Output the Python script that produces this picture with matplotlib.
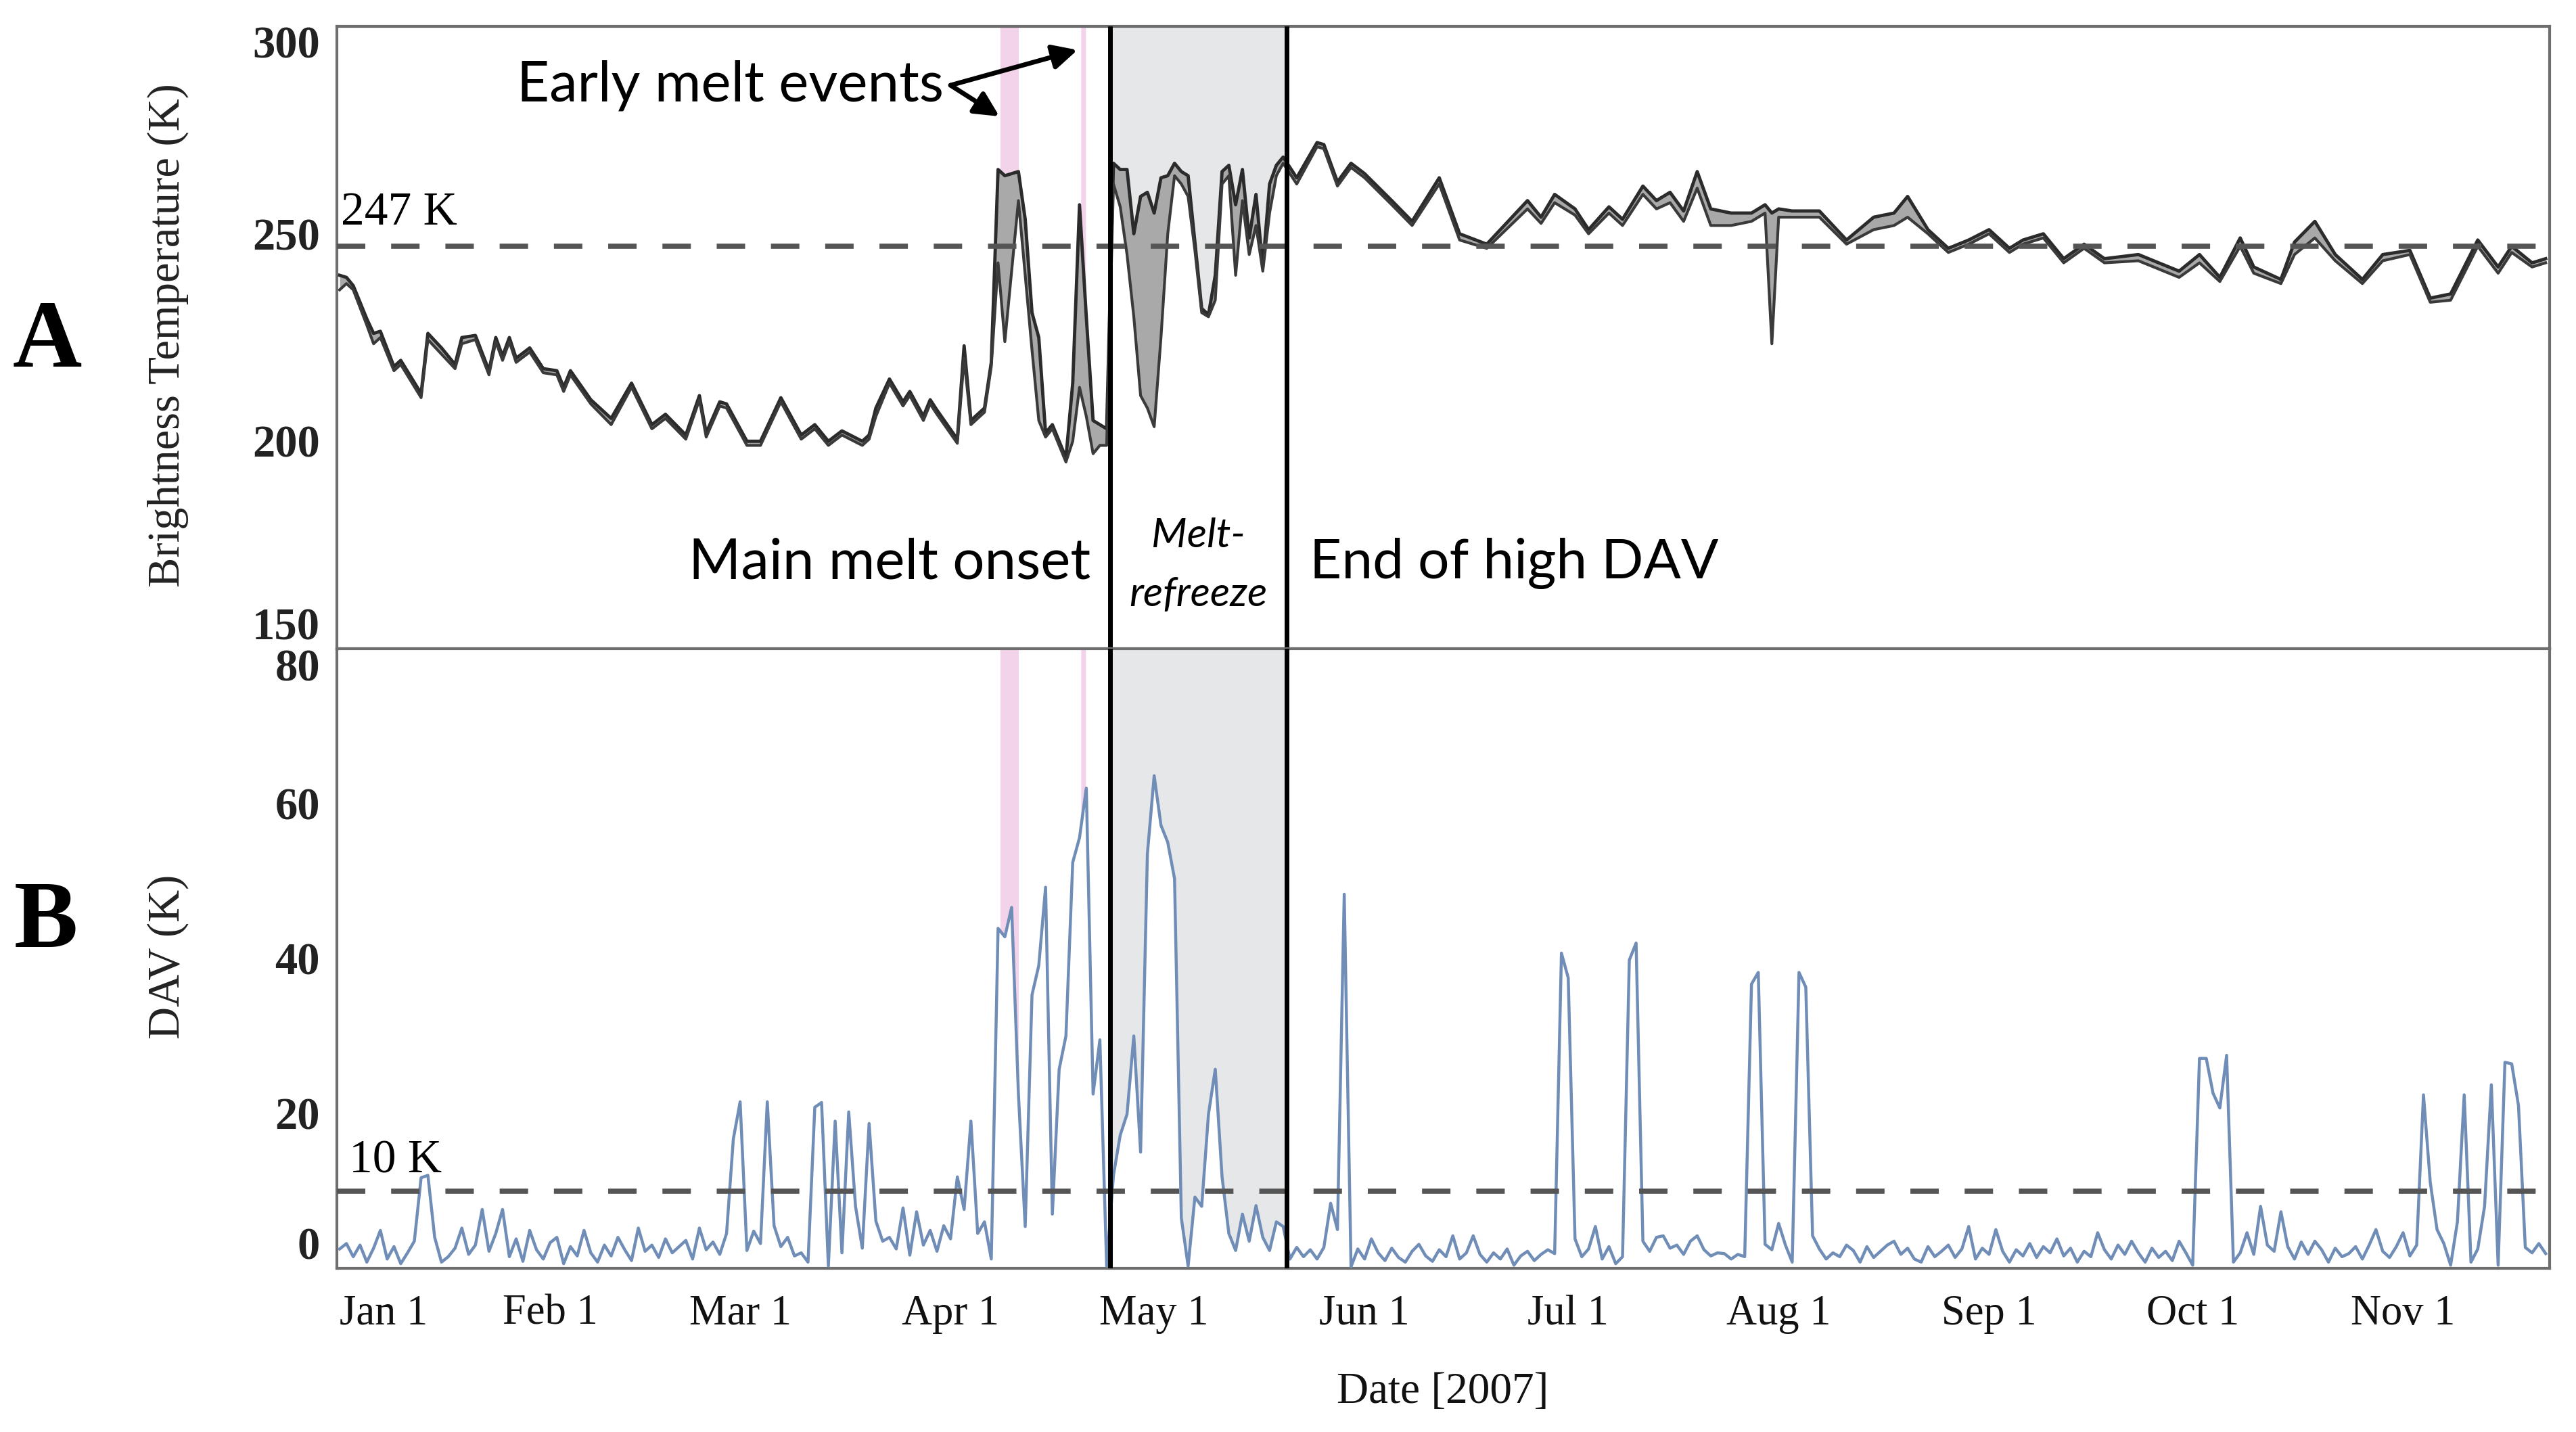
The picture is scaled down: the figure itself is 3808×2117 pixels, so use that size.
import numpy as np
import matplotlib
matplotlib.use('Agg')
import matplotlib.pyplot as plt

# brightness temperature, two passes (day of year 2007)
tb_day = [1, 2, 3, 5, 6, 7, 9, 10, 13, 14, 16, 18, 19, 21, 23, 24, 25, 26, 27, 29,
          31, 33, 34, 35, 38, 41, 44, 47, 49, 52, 54, 55, 57, 58, 61, 63, 66, 69, 71, 73,
          75, 78, 79, 80, 82, 84, 85, 87, 88, 89, 92, 93, 94, 96, 97, 98, 99, 101, 102, 103,
          104, 105, 106, 108, 109, 110, 111, 112, 113, 114, 115, 116, 117, 118, 119, 120, 121, 122, 123, 124,
          125, 126, 127, 128, 129, 130, 131, 132, 133, 134, 135, 136, 137, 138, 139, 140, 142, 145, 146, 148,
          150, 152, 156, 159, 163, 166, 170, 176, 178, 180, 183, 185, 188, 190, 193, 195, 197, 199, 201, 203,
          206, 209, 211, 212, 213, 215, 219, 223, 227, 230, 232, 235, 238, 241, 244, 247, 249, 252, 255, 258,
          261, 266, 272, 275, 278, 281, 283, 287, 289, 292, 295, 299, 302, 306, 309, 312, 316, 319, 321, 324,
          326]
tb_upper = [240, 239.5, 237.5, 229.5, 226, 226.5, 218, 219.5, 211.5, 226, 222.5, 218.5, 225, 225.5, 217, 225, 220.5, 225, 220, 222.5,
            217.5, 217, 213, 217, 210, 205.5, 214, 204, 206.5, 201.5, 211, 202, 209.5, 209, 200, 200, 210.5, 201.5, 204, 200,
            202.5, 200, 201.5, 208, 215, 209.5, 212, 206, 210, 207.5, 200.5, 223, 205, 208, 219, 265.5, 264, 265, 253.5, 231,
            225, 202, 204, 196, 214, 257, 230, 205, 204, 203, 267, 265.5, 265.5, 250, 259, 260, 255, 263.5, 264, 267,
            265, 264, 248, 232, 230.5, 240, 265, 266.5, 257, 265.5, 249, 259.5, 242, 262, 266.5, 268.5, 263.5, 272, 271.5, 262.5,
            267, 264.5, 258, 253, 263.5, 250, 247.5, 258, 254, 259.5, 256, 251, 256.5, 253.5, 261.5, 258, 260, 255.5, 265, 256,
            255, 255, 257, 255, 256, 255.5, 255.5, 248.5, 254, 255, 259, 251, 246.5, 248.5, 251, 246.5, 248.5, 250, 244, 247.5,
            244, 245, 241, 245, 239.5, 249, 242, 239, 248, 253, 245, 239, 245, 246, 234.5, 235.5, 248.5, 242, 247, 243,
            244]
tb_lower = [236.5, 238, 236.5, 228, 223.5, 225, 217, 218.5, 210.5, 224.5, 221, 217.5, 223.5, 224.5, 216, 224, 219.5, 224, 219, 221.5,
            216.5, 216, 212, 216, 209, 204, 213, 203, 205.5, 200.5, 210, 201, 208.5, 208, 199, 199, 209.5, 200.5, 203, 199,
            201.5, 199, 200.5, 206, 214, 208.5, 211, 205, 209, 206.5, 199.5, 220, 204, 207, 218, 243, 224, 258, 240, 222,
            205, 201, 203, 195, 200, 213, 206, 197, 199, 199, 262, 256.5, 245, 230, 211, 208, 203.5, 225, 250, 264,
            262, 259, 246, 231, 230, 234, 262, 264, 240, 258, 245, 252, 241, 255, 264, 267, 262, 271, 270.5, 261.5,
            266, 263.5, 257, 252, 262, 248.5, 246.5, 256, 252.5, 257.5, 254.5, 250, 255, 252, 259.5, 256, 257.5, 253, 261, 252,
            252, 253, 255, 223.5, 254, 254, 254, 247.5, 251, 252, 254, 250, 245.5, 247.5, 250, 245.5, 247.5, 249, 243, 246.5,
            243, 243.5, 239.5, 243, 238.5, 247, 240.5, 238, 245, 249, 243.5, 238, 243.5, 245, 233.5, 234, 247, 240.5, 245.5, 242,
            243]

# daily DAV from Jan 1
dav = [2.5, 3.2, 1.5, 3.0, 0.8, 2.6, 4.9, 1.2, 2.8, 0.6,
       2.0, 3.5, 11.7, 12.0, 4.0, 0.8, 1.5, 2.6, 5.2, 1.8,
       3.0, 7.6, 2.2, 4.5, 7.6, 1.5, 3.8, 0.9, 4.9, 2.4,
       1.2, 3.3, 4.0, 0.6, 2.8, 1.6, 4.9, 2.0, 0.8, 3.0,
       1.6, 4.0, 2.4, 1.0, 5.2, 2.2, 3.0, 1.4, 3.8, 2.0,
       2.8, 3.6, 1.2, 5.2, 2.4, 3.4, 1.8, 4.5, 16.7, 21.5,
       2.3, 4.8, 3.2, 21.5, 5.5, 2.8, 4.0, 1.6, 2.0, 0.8,
       20.8, 21.4, 0.3, 19.0, 2.0, 20.2, 8.0, 2.6, 18.7, 6.1,
       3.5, 4.0, 2.5, 7.8, 1.7, 7.3, 3.0, 4.9, 2.2, 5.5,
       3.8, 11.8, 7.6, 19.0, 4.5, 6.0, 1.2, 43.9, 42.8, 46.6,
       22.5, 5.4, 35.3, 39.1, 49.2, 7.0, 25.7, 30.0, 52.4, 55.6,
       62.0, 22.5, 29.5, 0.3, 12.0, 17.2, 19.9, 30.0, 15.0, 53.5,
       63.6, 57.2, 55.0, 50.3, 6.5, 0.3, 9.2, 8.0, 19.9, 25.7,
       11.8, 4.5, 2.3, 7.0, 3.5, 8.1, 4.0, 2.3, 6.0, 5.4,
       1.2, 2.7, 1.5, 2.4, 1.2, 2.7, 8.4, 5.0, 48.3, 0.2,
       2.5, 1.2, 3.8, 2.0, 1.0, 2.6, 1.4, 0.8, 2.2, 3.1,
       1.6, 0.9, 2.4, 1.5, 4.2, 1.2, 2.0, 4.2, 1.8, 0.8,
       2.0, 1.2, 2.5, 0.4, 1.6, 2.2, 1.0, 1.8, 2.4, 1.9,
       40.7, 37.5, 3.8, 1.5, 2.5, 5.4, 1.2, 2.8, 0.6, 1.5,
       39.8, 42.0, 3.5, 2.2, 4.0, 4.2, 2.6, 3.0, 1.8, 3.5,
       4.2, 2.4, 1.6, 2.0, 1.9, 1.2, 1.8, 1.5, 36.7, 38.2,
       3.1, 2.4, 5.8, 3.0, 0.8, 38.2, 36.3, 4.2, 2.5, 1.2,
       2.0, 1.5, 3.0, 2.3, 0.8, 2.8, 1.4, 2.2, 3.0, 3.5,
       1.8, 2.6, 1.2, 0.8, 2.8, 1.5, 2.2, 3.0, 1.4, 2.5,
       5.4, 1.2, 2.6, 1.8, 5.0, 2.2, 0.8, 2.4, 1.6, 3.2,
       1.4, 2.8, 2.0, 3.8, 1.6, 2.6, 0.8, 2.2, 1.5, 4.6,
       2.4, 1.2, 3.0, 1.8, 3.5, 2.0, 0.8, 2.6, 1.4, 2.2,
       1.0, 3.5, 2.0, 0.4, 27.1, 27.1, 22.6, 20.7, 27.5, 0.8,
       2.0, 4.6, 1.8, 8.0, 3.0, 2.2, 7.3, 2.8, 1.2, 3.4,
       1.8, 3.5, 2.4, 0.8, 2.6, 1.5, 1.9, 2.8, 1.2, 3.0,
       5.0, 2.2, 1.4, 2.8, 4.6, 1.6, 3.0, 22.4, 11.1, 5.0,
       3.2, 0.4, 6.0, 22.4, 0.8, 2.5, 8.0, 23.7, 0.4, 26.6,
       26.4, 21.0, 2.7, 2.0, 3.2, 1.9]
dav_day = np.arange(1, len(dav) + 1)

month_doy = [1, 32, 60, 91, 121, 152, 182, 213, 244, 274, 305]
month_lab = ['Jan 1', 'Feb 1', 'Mar 1', 'Apr 1', 'May 1', 'Jun 1',
             'Jul 1', 'Aug 1', 'Sep 1', 'Oct 1', 'Nov 1']

melt_onset = 114.5
dav_end = 140.5
early_events = [(98.3, 101.0), (110.2, 110.9)]
tb_thresh = 247
dav_thresh = 10

serif = 'Liberation Serif'
sans = 'Lato'
spine_c = '#6e6e6e'

fig = plt.figure(figsize=(38.08, 21.17), dpi=100)
ax1 = fig.add_axes([0.1308, 0.5470, 0.8590, 0.4346])
ax2 = fig.add_axes([0.1308, 0.1143, 0.8590, 0.4327])


def shade(ax, x0, x1, xs, ys, top, color):
    gx = np.linspace(x0, x1, 300)
    gy = np.interp(gx, xs, ys)
    ax.fill_between(gx, gy, top, color=color, lw=0, zorder=1)


# top panel
shade(ax1, melt_onset, dav_end, tb_day, tb_upper, 300, '#e6e7e9')
for a, b in early_events:
    shade(ax1, a, b, tb_day, tb_upper, 300, '#f2d3ea')
ax1.fill_between(tb_day, tb_lower, tb_upper, color='#a9a9a9', lw=0, zorder=2)
ax1.plot(tb_day, tb_upper, color='#2b2b2b', lw=3.5, zorder=3)
ax1.plot(tb_day, tb_lower, color='#3a3a3a', lw=3.0, zorder=3)
ax1.axhline(tb_thresh, color='#555555', lw=5.5, dashes=(5.5, 5), zorder=4)
ax1.set_ylim(150, 300)

# bottom panel
shade(ax2, melt_onset, dav_end, dav_day, dav, 80, '#e6e7e9')
for a, b in early_events:
    shade(ax2, a, b, dav_day, dav, 80, '#f2d3ea')
ax2.plot(dav_day, dav, color='#6f8db6', lw=3.2, zorder=3)
ax2.axhline(dav_thresh, color='#555555', lw=5.5, dashes=(5.5, 5), zorder=4)
ax2.set_ylim(0, 80)

for ax in (ax1, ax2):
    ax.set_xlim(0.6, 326.6)
    ax.axvline(melt_onset, color='black', lw=5, zorder=5)
    ax.axvline(dav_end, color='black', lw=5, zorder=5)
    for s in ax.spines.values():
        s.set_color(spine_c)
        s.set_linewidth(3)
    ax.tick_params(length=0, pad=18)

ax1.set_xticks([])
ax1.set_yticks([150, 200, 250, 300])
ax1.set_yticklabels(['150', '200', '250', '300'], fontfamily=serif,
                    fontsize=48, fontweight='bold', color='#222222')
ax2.set_yticks([0, 20, 40, 60, 80])
ax2.set_yticklabels(['0', '20', '40', '60', '80'], fontfamily=serif,
                    fontsize=48, fontweight='bold', color='#222222')
for ax in (ax1, ax2):
    labs = ax.get_yticklabels()
    labs[0].set_va('bottom')
    labs[-1].set_va('top')

ax2.set_xticks(month_doy)
ax2.set_xticklabels(month_lab, fontfamily=serif, fontsize=45, color='#111111')
ax2.tick_params(axis='x', pad=28)
ax2.get_xticklabels()[0].set_ha('left')

# annotations
ax1.text(1.2, 252.2, '247 K', fontfamily=serif, fontsize=50, va='baseline')
ax2.text(2.4, 12.4, '10 K', fontfamily=serif, fontsize=50, va='baseline')
ax1.text(27.1, 281.9, 'Early melt events', fontfamily=sans, fontsize=60,
         va='baseline')
for hx, hy in [(109.7, 294.3), (98.2, 278.3)]:
    ax1.annotate('', xy=(hx, hy), xytext=(91.0, 285.8),
                 arrowprops=dict(arrowstyle='-|>', lw=5, color='black',
                                 mutation_scale=55, shrinkA=0, shrinkB=0),
                 zorder=6)
ax1.text(111.6, 166.9, 'Main melt onset', fontfamily=sans, fontsize=60,
         ha='right', va='baseline')
ax1.text(143.9, 166.9, 'End of high DAV', fontfamily=sans, fontsize=59,
         ha='left', va='baseline')
ax1.text(127.5, 174.4, 'Melt-', fontfamily=sans, fontsize=44, style='italic',
         ha='center', va='baseline')
ax1.text(127.5, 160.3, 'refreeze', fontfamily=sans, fontsize=44, style='italic',
         ha='center', va='baseline')

fig.text(0.0651, 0.7657, 'Brightness Temperature (K)', fontfamily=serif,
         fontsize=48, rotation=90, ha='center', va='center', color='#222222')
fig.text(0.0651, 0.3321, 'DAV (K)', fontfamily=serif, fontsize=48,
         rotation=90, ha='center', va='center', color='#222222')
fig.text(0.5601, 0.0279, 'Date [2007]', fontfamily=serif, fontsize=47,
         ha='center', va='center', color='#111111')
fig.text(0.0184, 0.7605, 'A', fontfamily=serif, fontsize=102,
         fontweight='bold', ha='center', va='center')
fig.text(0.0179, 0.3552, 'B', fontfamily=serif, fontsize=102,
         fontweight='bold', ha='center', va='center')

fig.savefig('out.png', dpi=100, facecolor='white')
